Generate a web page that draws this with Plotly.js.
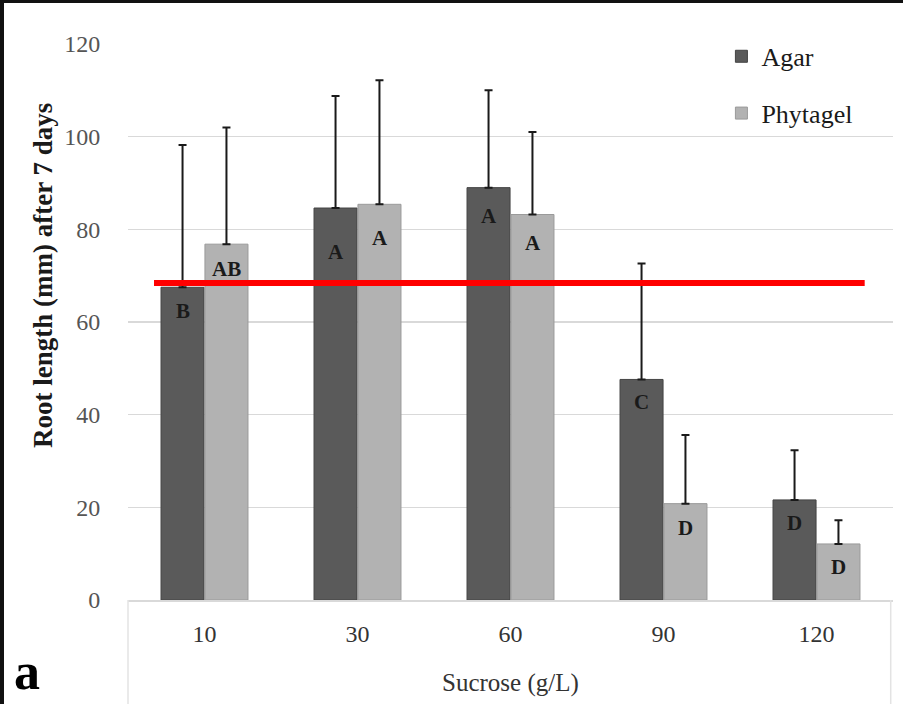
<!DOCTYPE html>
<html>
<head>
<meta charset="utf-8">
<script src="https://cdn.plot.ly/plotly-3.0.1.min.js"></script>
<style>
html,body{margin:0;padding:0;background:#fff;}
#wrap{position:relative;width:903px;height:704px;overflow:hidden;}
#chart{position:absolute;left:0;top:0;width:903px;height:704px;}
.bt{position:absolute;left:0;top:0;width:903px;height:3px;background:#111;}
.bl{position:absolute;left:0;top:0;width:4px;height:704px;background:#111;}
</style>
</head>
<body>
<div id="wrap"><div id="chart"></div><div class="bt"></div><div class="bl"></div></div>
<script>
// ---- data ----
const categories = ["10", "30", "60", "90", "120"];
const agarMean = [67.5, 84.6, 89.0, 47.6, 21.6];
const agarErrTop = [98.2, 108.8, 110.0, 72.6, 32.3];
const phytaMean = [76.8, 85.4, 83.2, 20.8, 12.1];
const phytaErrTop = [102.0, 112.2, 101.0, 35.6, 17.2];
const agarLetters = ["B", "A", "A", "C", "D"];
const phytaLetters = ["AB", "A", "A", "D", "D"];
const referenceLine = 68.4;

const serif = "Liberation Serif";
const pos = categories.map((c, i) => i);

const traces = [
  {
    type: "bar", name: "Agar", x: pos, y: agarMean, legendgroup: "g1",
    marker: {color: "#5a5a5a", line: {color: "#444", width: 1}},
    error_y: {type: "data", symmetric: false,
      array: agarErrTop.map((t, i) => t - agarMean[i]),
      arrayminus: agarMean.map(() => 0),
      color: "#1a1a1a", thickness: 2, width: 4}
  },
  {
    type: "bar", name: "Phytagel", x: pos, y: phytaMean, legendgroup: "g2",
    marker: {color: "#b2b2b2", line: {color: "#9a9a9a", width: 1}},
    error_y: {type: "data", symmetric: false,
      array: phytaErrTop.map((t, i) => t - phytaMean[i]),
      arrayminus: phytaMean.map(() => 0),
      color: "#1a1a1a", thickness: 2, width: 4}
  }
];

const agarShift = [-24, -44, -28, -23, -23];
const phytaShift = [-25, -34, -28, -24, -23];
const annotations = [];
pos.forEach((p, i) => {
  annotations.push({x: p, y: agarMean[i], xref: "x", yref: "y", text: "<b>" + agarLetters[i] + "</b>",
    xanchor: "center", yanchor: "middle",
    showarrow: false, xshift: -22, yshift: agarShift[i], font: {family: serif, size: 21, color: "#1a1a1a"}});
  annotations.push({x: p, y: phytaMean[i], xref: "x", yref: "y", text: "<b>" + phytaLetters[i] + "</b>",
    xanchor: "center", yanchor: "middle",
    showarrow: false, xshift: 22, yshift: phytaShift[i], font: {family: serif, size: 21, color: "#1a1a1a"}});
});
annotations.push({xref: "paper", yref: "paper", x: -0.111, y: 0.583, xanchor: "center", yanchor: "middle", textangle: -90,
  text: "<b>Root length (mm) after 7 days</b>", showarrow: false,
  font: {family: serif, size: 27, color: "#1a1a1a"}});
annotations.push({xref: "paper", yref: "paper", x: 0.5, y: -0.15, xanchor: "center", yanchor: "middle",
  text: "Sucrose (g/L)", showarrow: false,
  font: {family: serif, size: 25, color: "#333"}});
annotations.push({xref: "paper", yref: "paper", x: -0.132, y: -0.129, xanchor: "center", yanchor: "middle",
  text: "<b>a</b>", showarrow: false,
  font: {family: serif, size: 52, color: "#000"}});

const layout = {
  width: 903, height: 704,
  margin: {l: 128, r: 10, t: 44, b: 104},
  paper_bgcolor: "#fff", plot_bgcolor: "#fff",
  barmode: "group", bargap: 0.426, bargroupgap: 0.02,
  showlegend: true,
  legend: {x: 0.7757, y: 1.02, xanchor: "left", yanchor: "top",
    font: {family: serif, size: 26, color: "#1a1a1a"},
    tracegroupgap: 20, traceorder: "grouped", bgcolor: "rgba(0,0,0,0)"},
  xaxis: {range: [-0.5, 4.5], tickvals: pos, ticktext: categories,
    showgrid: false, zeroline: false, showline: true, linecolor: "#d9d9d9", linewidth: 1.5,
    ticks: "outside", ticklen: 12, tickcolor: "rgba(0,0,0,0)",
    tickfont: {family: serif, size: 24, color: "#333"}},
  yaxis: {range: [0, 120], tickvals: [0, 20, 40, 60, 80, 100, 120], showgrid: true, gridcolor: "#d9d9d9", gridwidth: 1.5,
    zeroline: false, showline: false,
    ticks: "outside", ticklen: 22, tickcolor: "rgba(0,0,0,0)",
    tickfont: {family: serif, size: 24, color: "#555"}},
  shapes: [
    {type: "line", xref: "paper", yref: "y", x0: 0.034, x1: 0.963, y0: referenceLine, y1: referenceLine,
      line: {color: "#ff0000", width: 6}},
    {type: "line", xref: "paper", yref: "paper", x0: 0, x1: 0, y0: 0, y1: -0.19, line: {color: "#e3e3e3", width: 1.5}},
    {type: "line", xref: "paper", yref: "paper", x0: 0.997, x1: 0.997, y0: 0, y1: -0.19, line: {color: "#e3e3e3", width: 1.5}}
  ],
  annotations: annotations
};

Plotly.newPlot("chart", traces, layout, {displayModeBar: false, staticPlot: true});
</script>
</body>
</html>
